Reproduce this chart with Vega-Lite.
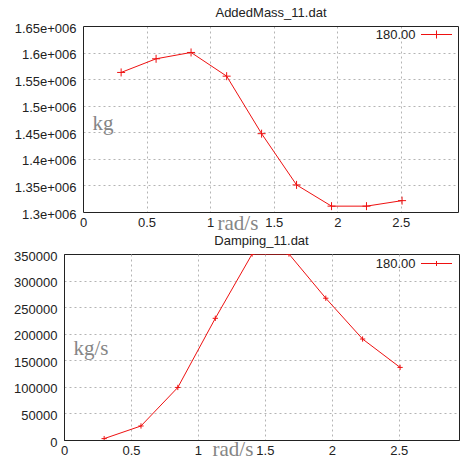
{
  "$schema": "https://vega.github.io/schema/vega-lite/v6.json",
  "background": "white",
  "padding": {"left": 13, "top": 7, "right": 0, "bottom": 0},
  "spacing": 1,
  "columns": 1,
  "align": "none",
  "bounds": "full",
  "datasets": {
    "added": [
      {"w": 0.30, "v": 1562600, "s": "180.00"},
      {"w": 0.575, "v": 1588300, "s": "180.00"},
      {"w": 0.85, "v": 1600200, "s": "180.00"},
      {"w": 1.13, "v": 1555600, "s": "180.00"},
      {"w": 1.405, "v": 1447400, "s": "180.00"},
      {"w": 1.68, "v": 1351000, "s": "180.00"},
      {"w": 1.955, "v": 1311000, "s": "180.00"},
      {"w": 2.23, "v": 1311000, "s": "180.00"},
      {"w": 2.51, "v": 1321400, "s": "180.00"}
    ],
    "damping": [
      {"w": 0.30, "v": 2600, "s": "180.00"},
      {"w": 0.575, "v": 26400, "s": "180.00"},
      {"w": 0.85, "v": 98900, "s": "180.00"},
      {"w": 1.13, "v": 229000, "s": "180.00"},
      {"w": 1.405, "v": 350000, "s": "180.00"},
      {"w": 1.68, "v": 350000, "s": "180.00"},
      {"w": 1.955, "v": 266800, "s": "180.00"},
      {"w": 2.23, "v": 190000, "s": "180.00"},
      {"w": 2.51, "v": 136600, "s": "180.00"}
    ]
  },
  "resolve": {"scale": {"color": "independent"}, "legend": {"color": "independent"}},
  "config": {
    "font": "Liberation Sans",
    "view": {"stroke": "#222222", "strokeWidth": 1},
    "axis": {
      "grid": true, "gridWidth": 1,
      "domain": true, "domainColor": "#222222", "domainWidth": 1, "ticks": false,
      "labelFont": "Liberation Sans", "labelFontSize": 13, "labelColor": "#222222",
      "titleFont": "Liberation Serif", "titleFontSize": 21, "titleFontWeight": "normal", "titleColor": "#858585"
    },
    "title": {"font": "Liberation Sans", "fontSize": 13, "fontWeight": "normal", "color": "#222222", "offset": 2, "anchor": "middle"},
    "legend": {
      "symbolSize": 100, "symbolStrokeWidth": 1, "symbolFillColor": "transparent",
      "labelFont": "Liberation Sans", "labelFontSize": 13, "labelColor": "#222222",
      "labelAlign": "right", "labelOffset": -27.5, "padding": 0
    }
  },
  "concat": [
    {
      "title": {"text": "AddedMass_11.dat", "dx": 10},
      "width": 394,
      "height": 186,
      "view": {"stroke": null},
      "data": {"name": "added"},
      "mark": {"type": "line", "strokeWidth": 1, "clip": true,
        "point": {"shape": "M-1,0H1M0,-1V1", "filled": false, "size": 64, "strokeWidth": 1}},
      "encoding": {
        "x": {"field": "w", "type": "quantitative",
          "scale": {"domain": [0, 2.95], "range": [19, 394], "nice": false, "zero": false},
          "axis": {"values": [0, 0.5, 1, 1.5, 2, 2.5, 2.95],
            "labelExpr": "datum.value > 2.9 ? '' : format(datum.value, '~g')",
            "labelFlush": false, "labelPadding": 4,
            "gridColor": {"condition": {"test": "datum.value > 2.9", "value": "#222222"}, "value": "#b4b4b4"},
            "gridDash": {"condition": {"test": "datum.value > 2.9", "value": []}, "value": [2, 3]},
            "gridOpacity": {"condition": {"test": "datum.value == 0", "value": 0}, "value": 1},
            "title": "rad/s", "titleX": 153, "titleY": 17, "titleAlign": "left", "titleBaseline": "alphabetic"}},
        "y": {"field": "v", "type": "quantitative",
          "scale": {"domain": [1300000, 1650000], "nice": false, "zero": false},
          "axis": {"values": [1300000, 1350000, 1400000, 1450000, 1500000, 1550000, 1600000, 1650000],
            "labelExpr": "format(datum.value / 1000000, '.3~') + 'e+006'",
            "offset": -19,
            "labelPadding": 7, "labelOffset": 2,
            "gridColor": {"condition": {"test": "datum.value == 1650000", "value": "#222222"}, "value": "#b4b4b4"},
            "gridDash": {"condition": {"test": "datum.value == 1650000", "value": []}, "value": [2, 3]},
            "gridOpacity": {"condition": {"test": "datum.value == 1300000", "value": 0}, "value": 1},
            "title": "kg", "titleAngle": 0, "titleX": 9, "titleY": 103.5, "titleAlign": "left", "titleBaseline": "alphabetic"}},
        "color": {"field": "s", "type": "nominal",
          "scale": {"range": ["#ee1111"]},
          "legend": {"title": null, "orient": "none", "legendX": 366, "legendY": 2,
            "symbolType": "M-3.1,0H3.1M0,-0.8V0.8"}}
      }
    },
    {
      "title": "Damping_11.dat",
      "width": 395,
      "height": 186,
      "data": {"name": "damping"},
      "mark": {"type": "line", "strokeWidth": 1, "clip": true,
        "point": {"shape": "M-1,0H1M0,-1V1", "filled": false, "size": 28, "strokeWidth": 1}},
      "encoding": {
        "x": {"field": "w", "type": "quantitative",
          "scale": {"domain": [0, 2.95], "nice": false, "zero": false},
          "axis": {"values": [0, 0.5, 1, 1.5, 2, 2.5], "format": "~g", "labelFlush": false, "labelPadding": 4,
            "gridDash": [2, 3],
            "gridColor": {"condition": {"test": "datum.value == 0", "value": "transparent"}, "value": "#b4b4b4"},
            "title": "rad/s", "titleX": 148, "titleY": 15, "titleAlign": "left", "titleBaseline": "alphabetic"}},
        "y": {"field": "v", "type": "quantitative",
          "scale": {"domain": [0, 350000], "nice": false, "zero": false},
          "axis": {"values": [0, 50000, 100000, 150000, 200000, 250000, 300000, 350000],
            "format": "d", "labelPadding": 7, "labelOffset": 2,
            "gridDash": [2, 3],
            "gridColor": {"condition": {"test": "datum.value == 0 || datum.value == 350000", "value": "transparent"}, "value": "#b4b4b4"},
            "title": "kg/s", "titleAngle": 0, "titleX": 9, "titleY": 100, "titleAlign": "left", "titleBaseline": "alphabetic"}},
        "color": {"field": "s", "type": "nominal",
          "scale": {"range": ["#ee1111"]},
          "legend": {"title": null, "orient": "none", "legendX": 366, "legendY": 3,
            "symbolType": "M-3.1,0H3.1M0,-0.5V0.5"}}
      }
    }
  ]
}
